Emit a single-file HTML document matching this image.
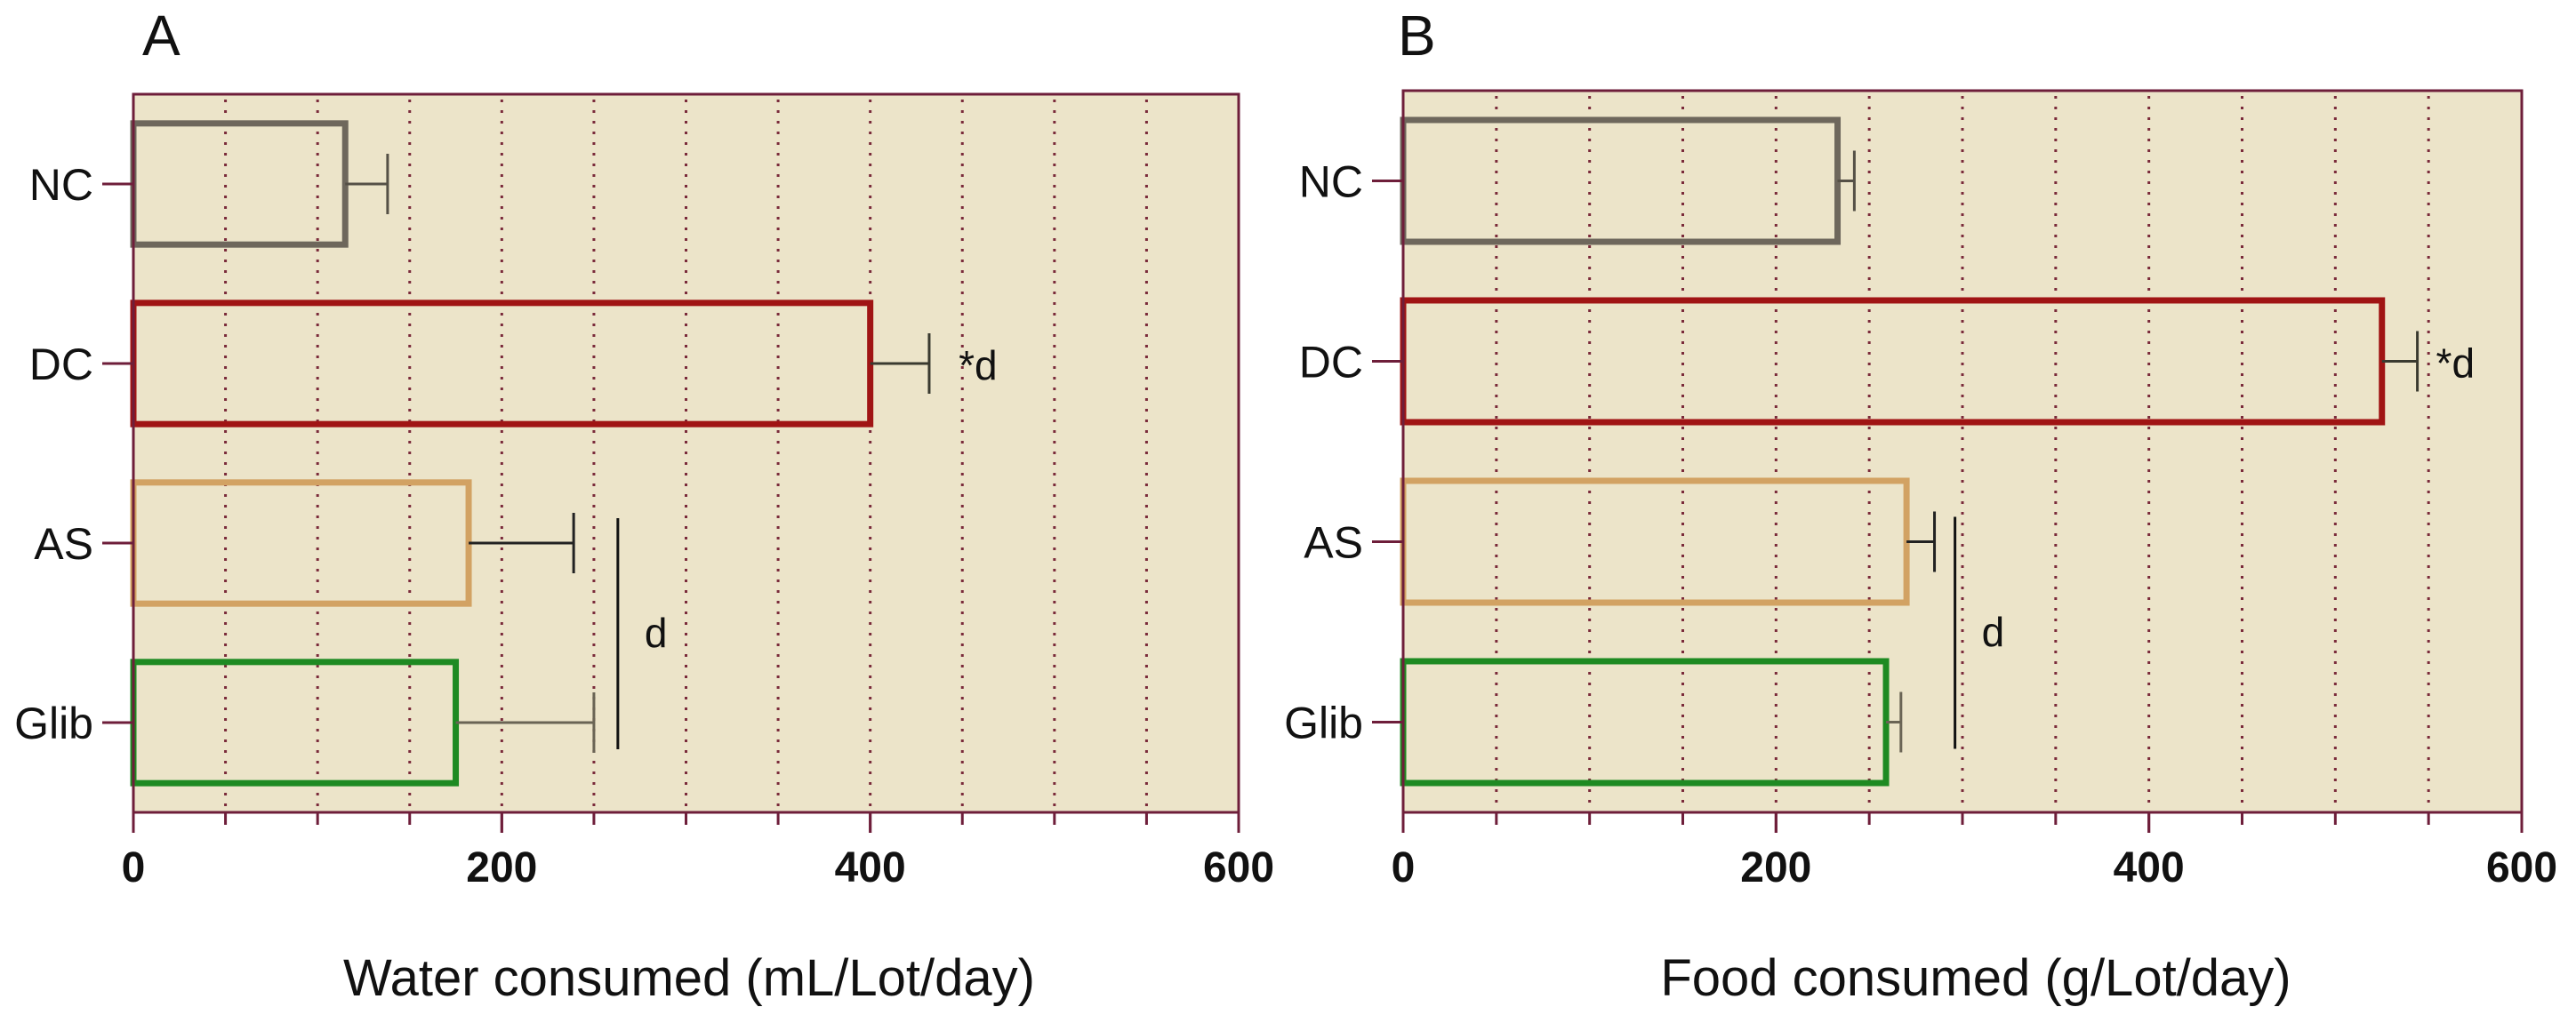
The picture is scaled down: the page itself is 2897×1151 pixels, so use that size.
<!DOCTYPE html>
<html><head><meta charset="utf-8"><style>
html,body{margin:0;padding:0;background:#fff;}
svg{display:block;font-family:"Liberation Sans",Arial,sans-serif;}
</style></head><body>
<svg id="chart" width="2897" height="1151" viewBox="0 0 2897 1151" xmlns="http://www.w3.org/2000/svg"></svg>
<script>
const categories = ["NC","DC","AS","Glib"];
const waterValues = [115, 400, 182, 175];
const waterErrors = [138, 432, 239, 250];
const foodValues = [233, 525, 270, 259];
const foodErrors = [242, 544, 285, 267];
const tickLabels = [0, 200, 400, 600];
const gridValues = [50,100,150,200,250,300,350,400,450,500,550];
const colors = ["#6e675c","#a01414","#d2a263","#1e8a22"];
const errColors = ["#555046","#3a3a30","#222","#6a6455"];

const NS = "http://www.w3.org/2000/svg";
const svg = document.getElementById("chart");
function el(tag, attrs, parent){
  const e = document.createElementNS(NS, tag);
  for (const k in attrs) e.setAttribute(k, attrs[k]);
  (parent||svg).appendChild(e);
  return e;
}

function panel(cfg){
  const g = el("g", {});
  
  
  const x = v => cfg.left + (v/600)*(cfg.right-cfg.left);
  const band = (cfg.bottom-cfg.top)/categories.length;
  const yc = i => cfg.top + band*(i+0.5);
  const bh = band*0.675;

  const bg = el("rect", {x:cfg.left, y:cfg.top, width:cfg.right-cfg.left, height:cfg.bottom-cfg.top, fill:"#ece4c9"}, g);
  
  

  gridValues.forEach(v=>{
    const l = el("line", {x1:x(v), x2:x(v), y1:cfg.top+6, y2:cfg.bottom-4, stroke:"#7a2a3a", "stroke-width":3, "stroke-dasharray":"3,9"}, g);
    
    
  });

  categories.forEach((c,i)=>{
    const vals = cfg.values, errs = cfg.errors;
    const y0 = yc(i)-bh/2;
    const r = el("rect", {x:cfg.left, y:y0, width:x(vals[i])-cfg.left, height:bh, fill:"none", stroke:colors[i], "stroke-width":7}, g);
    
    
    const eg = el("g", {stroke:errColors[i], "stroke-width":3}, g);
    
    
    el("line", {x1:x(vals[i]), x2:x(errs[i]), y1:yc(i), y2:yc(i)}, eg);
    el("line", {x1:x(errs[i]), x2:x(errs[i]), y1:yc(i)-34, y2:yc(i)+34}, eg);
    const tk = el("line", {x1:cfg.left-35, x2:cfg.left, y1:yc(i), y2:yc(i), stroke:"#6e1e3a", "stroke-width":3}, g);
    
    
    const t = el("text", {x:cfg.left-45, y:yc(i)+18, "text-anchor":"end", "font-size":50, fill:"#111"}, g);
    t.textContent = c;
    
    
  });

  const s1 = el("text", {x:x(cfg.dcStarX), y:yc(1)+18, "font-size":46, fill:"#111"}, g);
  s1.textContent = "*d";
  
  
  const sl = el("line", {x1:x(cfg.sigX), x2:x(cfg.sigX), y1:yc(2)-28, y2:yc(3)+30, stroke:"#111", "stroke-width":3}, g);
  
  
  const s2 = el("text", {x:x(cfg.sigX)+30, y:(yc(2)+yc(3))/2+16, "font-size":46, fill:"#111"}, g);
  s2.textContent = "d";
  
  

  const ax = el("path", {d:`M${cfg.left},${cfg.top} H${cfg.right} V${cfg.bottom} H${cfg.left} Z`, fill:"none", stroke:"#6e1e3a", "stroke-width":3}, g);
  
  
  gridValues.concat(tickLabels).forEach(v=>{
    const major = tickLabels.includes(v);
    const l = el("line", {x1:x(v), x2:x(v), y1:cfg.bottom, y2:cfg.bottom+(major?23:14), stroke:"#6e1e3a", "stroke-width":3}, g);
    
    
  });
  tickLabels.forEach(v=>{
    const t = el("text", {x:x(v), y:cfg.bottom+78, "text-anchor":"middle", "font-size":48, "font-weight":"bold", fill:"#111"}, g);
    t.textContent = v;
    
    
  });
  const at = el("text", {x:cfg.titleX, y:1120, "text-anchor":"middle", "font-size":58, fill:"#111"}, g);
  at.textContent = cfg.title;
  
  
  const pl = el("text", {x:cfg.letterX, y:62, "font-size":64, fill:"#111"}, g);
  pl.textContent = cfg.letter;
  
  
}

panel({name:"panel-a-water", left:150, right:1393, top:106, bottom:914, values:waterValues, errors:waterErrors,
  dcStarX:448, sigX:263, title:"Water consumed (mL/Lot/day)", titleX:775, letter:"A", letterX:160});
panel({name:"panel-b-food", left:1578, right:2836, top:102, bottom:914, values:foodValues, errors:foodErrors,
  dcStarX:554, sigX:296, title:"Food consumed (g/Lot/day)", titleX:2222, letter:"B", letterX:1572});
</script>
</body></html>
